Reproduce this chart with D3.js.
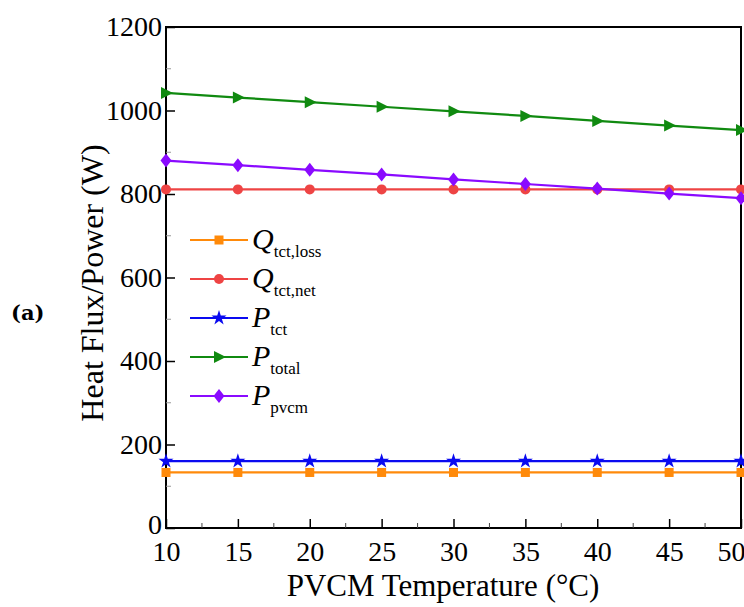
<!DOCTYPE html>
<html>
<head>
<meta charset="utf-8">
<script src="https://cdn.jsdelivr.net/npm/d3@7"></script>
<style>
  body { margin: 0; background: #fff; }
</style>
</head>
<body>
<div id="chart"></div>
<script>
// data
const temps = [10, 15, 20, 25, 30, 35, 40, 45, 50];
const qLoss = [133, 133, 133, 133, 133, 133, 133, 133, 133];
const qNet = [811, 811, 811, 811, 811, 811, 811, 811, 811];
const pTct = [160, 160, 160, 160, 160, 160, 160, 160, 160];
const pTotal = [1042, 1031, 1020, 1009, 998, 987, 975, 964, 953];
const pPvcm = [880, 869, 858, 847, 835, 824, 813, 801, 790];
const xTicks = [10, 15, 20, 25, 30, 35, 40, 45, 50];
const yTicks = [0, 200, 400, 600, 800, 1000, 1200];

const serif = "Liberation Serif, DejaVu Serif, Times New Roman, serif";
const width = 744;
const height = 607;
const margin = { top: 27, bottom: 79, left: 166, right: 3 };

const svg = d3.select("#chart").append("svg")
    .attr("width", width)
    .attr("height", height);

const x = d3.scaleLinear().domain([10, 50]).range([margin.left, width - margin.right]);
const y = d3.scaleLinear().domain([0, 1200]).range([height - margin.bottom, margin.top]);

// series: name, sub, symbol, colour
const series = [
  { main: "Q", sub: "tct,loss", values: qLoss, color: "#ff8a0a", sym: "square" },
  { main: "Q", sub: "tct,net", values: qNet, color: "#ee4444", sym: "circle" },
  { main: "P", sub: "tct", values: pTct, color: "#0a0af0", sym: "star" },
  { main: "P", sub: "total", values: pTotal, color: "#108a10", sym: "triangle" },
  { main: "P", sub: "pvcm", values: pPvcm, color: "#8a0aff", sym: "diamond" }
];

function drawMarker(g, sym, color) {
  if (sym === "square") {
    g.append("rect").attr("x", -4.5).attr("y", -4.5).attr("width", 9).attr("height", 9).attr("fill", color);
  } else if (sym === "circle") {
    g.append("circle").attr("r", 5).attr("fill", color);
  } else if (sym === "star") {
    g.append("path").attr("d", d3.symbol().type(d3.symbolStar).size(70)()).attr("fill", color);
  } else if (sym === "triangle") {
    g.append("path").attr("d", "M-5,-6L7,0L-5,6Z").attr("fill", color);
  } else if (sym === "diamond") {
    g.append("path").attr("d", "M0,-7L5.5,0L0,7L-5.5,0Z").attr("fill", color);
  }
}

// frame
svg.append("rect")
    .attr("x", margin.left).attr("y", margin.top)
    .attr("width", width - margin.right - margin.left)
    .attr("height", height - margin.bottom - margin.top)
    .attr("fill", "none").attr("stroke", "#000").attr("stroke-width", 2);

// minor ticks
const yMinor = d3.range(100, 1200, 200);
svg.selectAll(".yminor").data(yMinor).enter().append("line")
    .attr("x1", margin.left).attr("x2", margin.left + 5)
    .attr("y1", d => y(d)).attr("y2", d => y(d))
    .attr("stroke", "#999").attr("stroke-width", 1);
const xMinor = d3.range(12.5, 50, 5);
svg.selectAll(".xminor").data(xMinor).enter().append("line")
    .attr("x1", d => x(d)).attr("x2", d => x(d))
    .attr("y1", y(0)).attr("y2", y(0) - 5)
    .attr("stroke", "#444").attr("stroke-width", 1);

// axes
const xAxis = svg.append("g")
    .attr("transform", "translate(0," + y(0) + ")")
    .call(d3.axisBottom(x).tickValues(xTicks).tickSize(-9).tickPadding(13).tickFormat(d3.format("d")));
xAxis.select(".domain").remove();
xAxis.selectAll("line").attr("stroke", "#000").attr("stroke-width", 1.5);
xAxis.selectAll("text").attr("font-size", 28).attr("fill", "#000")
    .attr("dx", d => d === 50 ? -10 : 0);

const yAxis = svg.append("g")
    .attr("transform", "translate(" + margin.left + ",0)")
    .call(d3.axisLeft(y).tickValues(yTicks).tickSize(-9).tickPadding(4).tickFormat(d3.format("d")));
yAxis.select(".domain").remove();
yAxis.selectAll("line").attr("stroke", "#000").attr("stroke-width", 1.5);
yAxis.selectAll("text").attr("font-size", 28).attr("fill", "#000")
    .attr("dy", d => d === 0 ? "0.2em" : "0.32em");

// lines and markers
const line = d3.line().x((d, i) => x(temps[i])).y(d => y(d));
series.forEach(function(s) {
  svg.append("path")
      .datum(s.values)
      .attr("d", line)
      .attr("fill", "none")
      .attr("stroke", s.color)
      .attr("stroke-width", 2.2);
  s.values.forEach(function(v, i) {
    const g = svg.append("g").attr("transform", "translate(" + x(temps[i]) + "," + y(v) + ")");
    drawMarker(g, s.sym, s.color);
  });
});

// legend
const legend = svg.selectAll(".legend")
    .data(series)
    .enter().append("g")
    .attr("class", "legend")
    .attr("transform", (d, i) => "translate(190," + (240 + i * 39) + ")");
legend.append("line")
    .attr("x1", 0).attr("x2", 58)
    .attr("stroke", d => d.color).attr("stroke-width", 2.2);
legend.each(function(d) {
  const g = d3.select(this).append("g").attr("transform", "translate(29,0)");
  drawMarker(g, d.sym, d.color);
});
const lt = legend.append("text").attr("x", 62).attr("y", 9);
lt.append("tspan").text(d => d.main).style("font-style", "italic").attr("font-size", 30);
lt.append("tspan").text(d => d.sub).attr("dy", 8).attr("font-size", 17);

// axis titles
svg.append("text")
    .attr("x", 443)
    .attr("y", 596)
    .attr("text-anchor", "middle")
    .attr("font-size", 31)
    .text("PVCM Temperature (\u00B0C)");

svg.append("text")
    .attr("transform", "rotate(-90)")
    .attr("x", -283)
    .attr("y", 103)
    .attr("text-anchor", "middle")
    .attr("font-size", 32)
    .text("Heat Flux/Power (W)");

// every text in Times-like serif
svg.selectAll("text").style("font-family", serif);

svg.append("text")
    .attr("x", 11)
    .attr("y", 320)
    .style("font-family", "DejaVu Serif, serif")
    .attr("font-size", 21)
    .attr("font-weight", "bold")
    .text("(a)");
</script>
</body>
</html>
